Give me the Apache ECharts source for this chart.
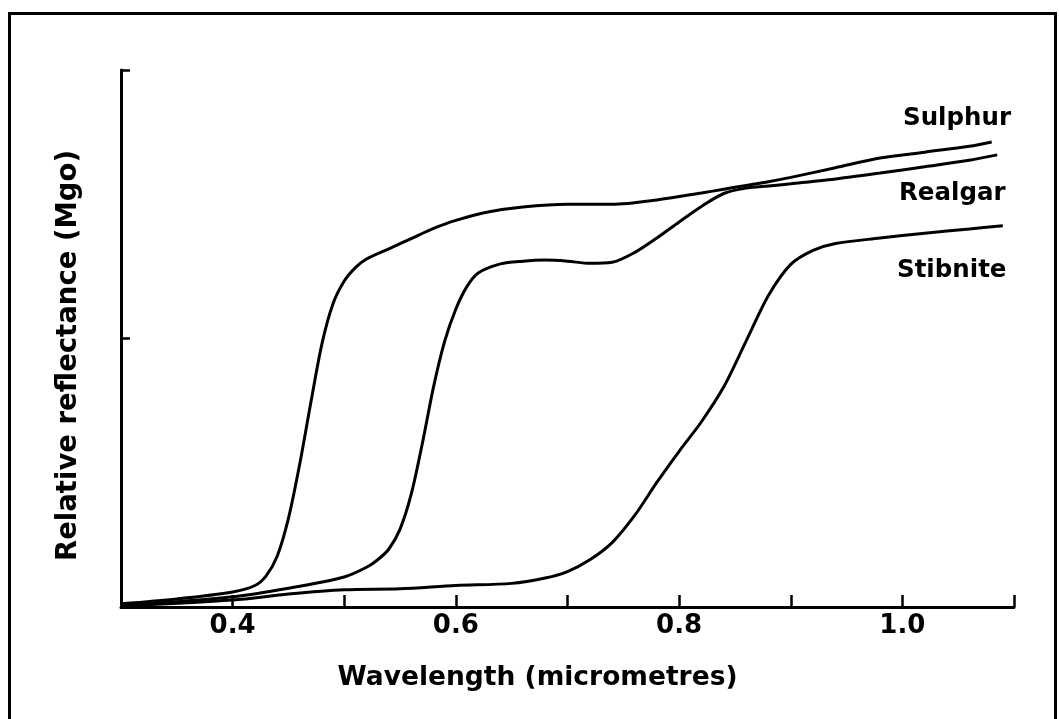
<!DOCTYPE html>
<html>
<head>
<meta charset="utf-8">
<script src="https://cdn.jsdelivr.net/npm/echarts@6/dist/echarts.min.js"></script>
<style>
html,body{margin:0;padding:0;background:#fff;}
#chart{width:1059px;height:719px;}
</style>
</head>
<body>
<div id="chart"></div>
<script>
// Wavelength (micrometres) and relative reflectance
const sulphurX = [0.30,0.35,0.40,0.42,0.43,0.44,0.45,0.46,0.47,0.48,0.49,0.50,0.51,0.52,0.54,0.56,0.58,0.60,0.63,0.66,0.70,0.74,0.78,0.82,0.84,0.86,0.88,0.90,0.94,0.98,1.02,1.06,1.08];
const sulphurY = [0.006,0.015,0.028,0.04,0.058,0.095,0.165,0.265,0.38,0.49,0.565,0.607,0.632,0.648,0.667,0.686,0.705,0.72,0.736,0.745,0.75,0.75,0.758,0.771,0.778,0.785,0.792,0.80,0.818,0.836,0.847,0.858,0.866];

const realgarX = [0.30,0.40,0.45,0.50,0.52,0.53,0.54,0.55,0.56,0.57,0.58,0.59,0.60,0.61,0.62,0.64,0.66,0.68,0.70,0.72,0.74,0.76,0.78,0.80,0.82,0.84,0.86,0.88,0.90,0.94,0.98,1.02,1.06,1.085];
const realgarY = [0.002,0.019,0.035,0.056,0.074,0.088,0.108,0.145,0.21,0.305,0.41,0.495,0.555,0.597,0.622,0.639,0.644,0.646,0.644,0.64,0.642,0.66,0.687,0.717,0.746,0.77,0.78,0.784,0.788,0.797,0.808,0.82,0.832,0.842];

const stibniteX = [0.30,0.40,0.45,0.50,0.55,0.60,0.65,0.68,0.70,0.72,0.74,0.76,0.78,0.80,0.82,0.84,0.86,0.88,0.90,0.92,0.94,0.98,1.02,1.06,1.09];
const stibniteY = [0.002,0.013,0.024,0.032,0.034,0.04,0.044,0.054,0.066,0.088,0.12,0.17,0.232,0.29,0.345,0.41,0.495,0.58,0.638,0.664,0.677,0.687,0.696,0.704,0.71];

const seriesNames = ['Sulphur','Realgar','Stibnite'];
const xTickLabels = ['0.4','0.6','0.8','1.0'];

const FONT = 'DejaVu Sans';
const zip = (xs, ys) => xs.map((x, i) => [x, ys[i]]);

const chart = echarts.init(document.getElementById('chart'), null, {renderer: 'canvas'});

const lineStyle = {color: '#000', width: 3};
function mkSeries(name, xs, ys) {
  return {
    name: name, type: 'line', data: zip(xs, ys),
    smooth: 0.3, showSymbol: false, symbol: 'none',
    lineStyle: lineStyle, silent: true
  };
}

chart.setOption({
  animation: false,
  backgroundColor: '#fff',
  grid: {left: 121, right: 45, top: 70, bottom: 112, containLabel: false},
  xAxis: {
    type: 'value', min: 0.3, max: 1.1, interval: 0.1,
    name: 'Wavelength (micrometres)', nameLocation: 'middle', nameGap: 58,
    nameTextStyle: {fontFamily: FONT, fontWeight: 'bold', fontSize: 26.5, color: '#000', padding: [0, 60, 0, 0]},
    axisLine: {show: true, lineStyle: {color: '#000', width: 3}},
    axisTick: {show: true, inside: true, length: 12, lineStyle: {color: '#000', width: 2.5}},
    axisLabel: {
      show: true, margin: 6, fontFamily: FONT, fontWeight: 'bold', fontSize: 26, color: '#000',
      showMinLabel: true, showMaxLabel: true,
      formatter: function (v) {
        const s = (Math.round(v * 10) / 10).toFixed(1);
        return xTickLabels.indexOf(s) >= 0 ? s : '';
      }
    },
    splitLine: {show: false}
  },
  yAxis: {
    type: 'value', min: 0, max: 1, interval: 0.5,
    name: 'Relative reflectance (Mgo)', nameLocation: 'middle', nameGap: 38, nameRotate: 90,
    nameTextStyle: {fontFamily: FONT, fontWeight: 'bold', fontSize: 27.5, color: '#000', padding: [0, 34, 0, 0]},
    axisLine: {show: true, lineStyle: {color: '#000', width: 3}},
    axisTick: {show: true, inside: true, length: 9, lineStyle: {color: '#000', width: 2.5}},
    axisLabel: {show: false},
    splitLine: {show: false}
  },
  graphic: [
    {type: 'rect', left: 7, top: 11, z: 100, silent: true,
     shape: {width: 1046, height: 720},
     style: {fill: 'none', stroke: '#000', lineWidth: 3}},
    {type: 'text', left: 903, top: 106, z: 100, silent: true,
     style: {text: seriesNames[0], font: 'bold 24.5px "DejaVu Sans"', fill: '#000'}},
    {type: 'text', left: 899, top: 181, z: 100, silent: true,
     style: {text: seriesNames[1], font: 'bold 24.5px "DejaVu Sans"', fill: '#000'}},
    {type: 'text', left: 897, top: 258, z: 100, silent: true,
     style: {text: seriesNames[2], font: 'bold 24.5px "DejaVu Sans"', fill: '#000'}}
  ],
  series: [
    mkSeries(seriesNames[0], sulphurX, sulphurY),
    mkSeries(seriesNames[1], realgarX, realgarY),
    mkSeries(seriesNames[2], stibniteX, stibniteY)
  ]
});
</script>
</body>
</html>
